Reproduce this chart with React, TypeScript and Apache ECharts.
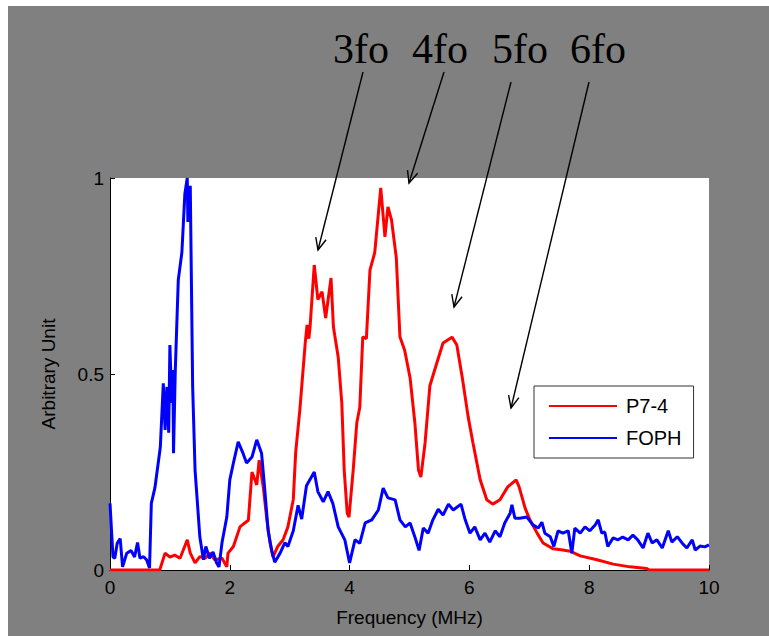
import React, { useEffect, useRef } from "react";
import * as echarts from "echarts";

const seriesNames = ["P7-4", "FOPH"];
const xTicks = [0, 2, 4, 6, 8, 10];
const yTicks = [0, 0.5, 1];

const redFreq = [0, 0.83, 0.92, 1.0, 1.08, 1.17, 1.29, 1.34, 1.42, 1.5, 1.59, 1.67, 1.75, 1.87, 1.95, 1.97, 2.06, 2.17, 2.25, 2.31, 2.37, 2.42, 2.45, 2.49, 2.56, 2.62, 2.67, 2.72, 2.8, 2.89, 2.97, 3.06, 3.1, 3.17, 3.26, 3.29, 3.32, 3.34, 3.41, 3.47, 3.54, 3.6, 3.69, 3.73, 3.81, 3.87, 3.91, 3.96, 3.99, 4.06, 4.12, 4.17, 4.22, 4.28, 4.34, 4.42, 4.52, 4.59, 4.64, 4.7, 4.78, 4.84, 4.92, 5.01, 5.09, 5.15, 5.19, 5.26, 5.34, 5.46, 5.56, 5.71, 5.79, 5.88, 5.98, 6.06, 6.18, 6.29, 6.39, 6.51, 6.64, 6.78, 6.83, 6.93, 7.01, 7.13, 7.23, 7.4, 7.56, 7.68, 7.85, 8.13, 8.4, 8.68, 8.96, 9.0, 10];
const redAmp = [0, 0, 0.043, 0.033, 0.038, 0.03, 0.077, 0.043, 0.018, 0.034, 0.03, 0.043, 0.026, 0.03, 0.008, 0.043, 0.06, 0.11, 0.12, 0.127, 0.25, 0.23, 0.217, 0.28, 0.21, 0.127, 0.07, 0.033, 0.06, 0.077, 0.11, 0.18, 0.3, 0.41, 0.58, 0.625, 0.59, 0.62, 0.778, 0.69, 0.71, 0.643, 0.745, 0.62, 0.543, 0.425, 0.255, 0.145, 0.135, 0.255, 0.375, 0.415, 0.595, 0.59, 0.765, 0.81, 0.975, 0.85, 0.926, 0.893, 0.796, 0.595, 0.56, 0.49, 0.375, 0.255, 0.237, 0.324, 0.47, 0.53, 0.579, 0.594, 0.574, 0.492, 0.39, 0.324, 0.23, 0.179, 0.168, 0.179, 0.212, 0.23, 0.212, 0.158, 0.128, 0.094, 0.069, 0.054, 0.051, 0.048, 0.036, 0.026, 0.015, 0.008, 0.004, 0, 0];

const blueFreq = [0, 0.05, 0.08, 0.12, 0.17, 0.21, 0.28, 0.35, 0.41, 0.46, 0.5, 0.56, 0.61, 0.66, 0.69, 0.75, 0.84, 0.89, 0.92, 0.95, 0.98, 1.0, 1.03, 1.05, 1.06, 1.09, 1.14, 1.2, 1.25, 1.29, 1.3, 1.34, 1.38, 1.42, 1.5, 1.56, 1.6, 1.66, 1.72, 1.78, 1.82, 1.87, 1.95, 2.0, 2.06, 2.14, 2.22, 2.28, 2.37, 2.45, 2.53, 2.58, 2.64, 2.7, 2.75, 2.84, 2.92, 2.97, 3.06, 3.14, 3.2, 3.28, 3.41, 3.47, 3.56, 3.64, 3.72, 3.81, 3.92, 4.0, 4.09, 4.17, 4.26, 4.37, 4.48, 4.56, 4.64, 4.76, 4.84, 4.93, 5.01, 5.09, 5.16, 5.23, 5.31, 5.39, 5.48, 5.56, 5.65, 5.73, 5.86, 5.93, 6.01, 6.09, 6.18, 6.26, 6.34, 6.43, 6.51, 6.59, 6.68, 6.71, 6.76, 6.84, 6.96, 7.06, 7.15, 7.21, 7.26, 7.35, 7.41, 7.48, 7.56, 7.65, 7.71, 7.76, 7.85, 7.93, 8.01, 8.1, 8.15, 8.21, 8.26, 8.31, 8.4, 8.48, 8.56, 8.65, 8.73, 8.81, 8.9, 8.98, 9.05, 9.13, 9.22, 9.32, 9.38, 9.47, 9.55, 9.63, 9.72, 9.77, 9.85, 9.93, 10.0];
const blueAmp = [0.17, 0.033, 0.03, 0.068, 0.08, 0.008, 0.043, 0.05, 0.033, 0.07, 0.03, 0.034, 0.026, 0.005, 0.17, 0.21, 0.313, 0.476, 0.357, 0.467, 0.35, 0.574, 0.426, 0.51, 0.298, 0.51, 0.74, 0.81, 0.96, 1.0, 0.888, 0.98, 0.467, 0.255, 0.084, 0.026, 0.06, 0.03, 0.046, 0.018, 0.008, 0.07, 0.135, 0.23, 0.273, 0.327, 0.298, 0.273, 0.288, 0.332, 0.298, 0.212, 0.1, 0.05, 0.02, 0.043, 0.07, 0.06, 0.1, 0.165, 0.13, 0.215, 0.25, 0.2, 0.174, 0.2, 0.17, 0.11, 0.077, 0.018, 0.077, 0.068, 0.12, 0.128, 0.153, 0.209, 0.184, 0.179, 0.128, 0.11, 0.12, 0.084, 0.05, 0.107, 0.094, 0.128, 0.155, 0.14, 0.168, 0.153, 0.168, 0.128, 0.094, 0.11, 0.077, 0.094, 0.071, 0.1, 0.085, 0.12, 0.145, 0.166, 0.132, 0.132, 0.135, 0.115, 0.107, 0.122, 0.094, 0.085, 0.06, 0.1, 0.094, 0.1, 0.043, 0.107, 0.094, 0.11, 0.1, 0.115, 0.128, 0.094, 0.097, 0.06, 0.082, 0.077, 0.084, 0.077, 0.089, 0.077, 0.056, 0.094, 0.069, 0.077, 0.056, 0.1, 0.071, 0.085, 0.069, 0.056, 0.077, 0.051, 0.061, 0.059, 0.064];

// annotation labels and their arrows (pixel layout)
const harmonicLabels = ["3fo", "4fo", "5fo", "6fo"];
const labelX = [361, 440, 520, 598];
const labelY = 49;
const arrowStart = [[363, 72], [444, 72], [511, 82], [589, 82]];
const arrowEnd = [[318, 250], [409, 183], [454, 307], [511, 408]];

const SANS = '"Liberation Sans", Arial, sans-serif';
const SERIF = '"Liberation Serif", "Times New Roman", serif';

function arrowElements(s: number[], e: number[]) {
  const ang = Math.atan2(e[1] - s[1], e[0] - s[0]);
  const L = 13;
  const a = 0.42;
  const p1 = [e[0] - L * Math.cos(ang - a), e[1] - L * Math.sin(ang - a)];
  const p2 = [e[0] - L * Math.cos(ang + a), e[1] - L * Math.sin(ang + a)];
  return [
    {
      type: "line",
      z: 100,
      shape: { x1: s[0], y1: s[1], x2: e[0], y2: e[1] },
      style: { stroke: "#000", lineWidth: 1.4 },
    },
    {
      type: "polyline",
      z: 100,
      shape: { points: [p1, e, p2] },
      style: { stroke: "#000", lineWidth: 1.4, fill: null },
    },
  ];
}

export default function App() {
  const ref = useRef<HTMLDivElement>(null);

  useEffect(() => {
    if (!ref.current) return;
    const chart = echarts.init(ref.current, null, { renderer: "svg" });

    const redData = redFreq.map((f, i) => [f, redAmp[i]]);
    const blueData = blueFreq.map((f, i) => [f, blueAmp[i]]);

    const graphics: any[] = [];
    harmonicLabels.forEach((t, i) => {
      graphics.push({
        type: "text",
        z: 100,
        x: labelX[i],
        y: labelY,
        style: {
          text: t,
          font: `42px ${SERIF}`,
          fill: "#000",
          align: "center",
          verticalAlign: "middle",
        },
      });
      graphics.push(...arrowElements(arrowStart[i], arrowEnd[i]));
    });

    const axisText = { color: "#000", fontSize: 19, fontFamily: SANS };

    chart.setOption({
      animation: false,
      backgroundColor: "transparent",
      grid: {
        left: 110,
        right: 60,
        top: 178,
        bottom: 66,
        show: true,
        backgroundColor: "#ffffff",
        borderWidth: 0,
      },
      legend: {
        orient: "vertical",
        left: 534,
        top: 386,
        data: seriesNames,
        itemWidth: 68,
        itemHeight: 4,
        itemGap: 12,
        padding: [10, 12, 10, 14],
        backgroundColor: "#ffffff",
        borderColor: "#333",
        borderWidth: 1,
        borderRadius: 0,
        itemStyle: { opacity: 0 },
        textStyle: { color: "#000", fontSize: 20, fontFamily: SANS, padding: [0, 0, 0, 4] },
      },
      xAxis: {
        type: "value",
        min: xTicks[0],
        max: xTicks[xTicks.length - 1],
        interval: 2,
        name: "Frequency (MHz)",
        nameLocation: "middle",
        nameGap: 38,
        nameTextStyle: axisText,
        axisLine: { show: true, lineStyle: { color: "#000", width: 1 } },
        axisTick: { show: true, inside: true, length: 5, lineStyle: { color: "#000" } },
        splitLine: { show: false },
        axisLabel: { ...axisText, margin: 8 },
      },
      yAxis: {
        type: "value",
        min: yTicks[0],
        max: yTicks[yTicks.length - 1],
        interval: 0.5,
        name: "Arbitrary Unit",
        nameLocation: "middle",
        nameGap: 52,
        nameRotate: 90,
        nameTextStyle: axisText,
        axisLine: { show: true, lineStyle: { color: "#000", width: 1 } },
        axisTick: { show: true, inside: true, length: 5, lineStyle: { color: "#000" } },
        splitLine: { show: false },
        axisLabel: { ...axisText, margin: 6 },
      },
      series: [
        {
          name: seriesNames[0],
          type: "line",
          data: redData,
          showSymbol: false,
          symbol: "none",
          lineStyle: { color: "#ff0000", width: 3 },
          itemStyle: { color: "#ff0000" },
          z: 2,
        },
        {
          name: seriesNames[1],
          type: "line",
          data: blueData,
          showSymbol: false,
          symbol: "none",
          lineStyle: { color: "#0000ff", width: 3 },
          itemStyle: { color: "#0000ff" },
          z: 3,
        },
      ],
      graphic: graphics,
    });

    return () => chart.dispose();
  }, []);

  return (
    <div style={{ position: "fixed", left: 0, top: 0, width: 769, height: 636, background: "#ffffff" }}>
      <div style={{ position: "absolute", left: 8, top: 6, right: 0, bottom: 0, background: "#808080" }} />
      <div ref={ref} style={{ position: "absolute", left: 0, top: 0, width: 769, height: 636 }} />
    </div>
  );
}
